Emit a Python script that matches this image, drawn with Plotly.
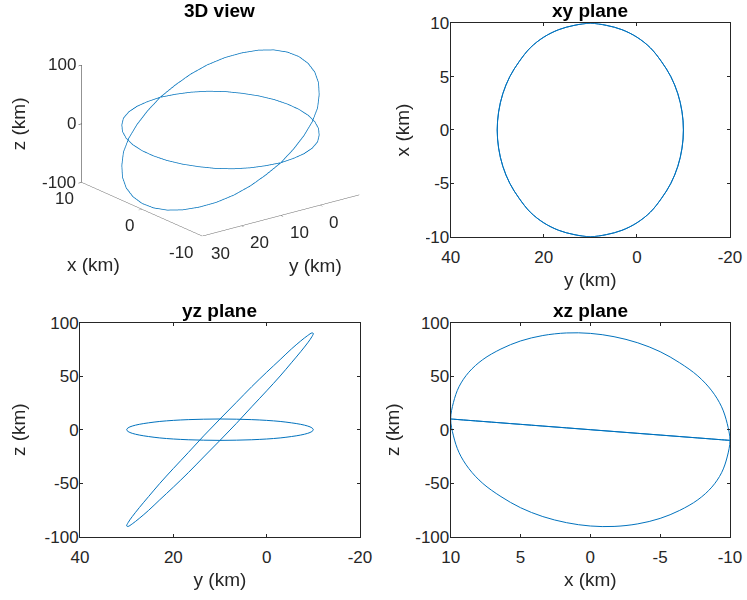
import plotly.graph_objects as go

x_km = [10.0, 9.8, 9.4, 8.7, 7.7, 6.4, 5.0, 3.4, 1.7, 0.0, -1.7, -3.4, -5.0, -6.4, -7.7, -8.7, -9.4, -9.8,
        -10.0, -9.8, -9.4, -8.7, -7.7, -6.4, -5.0, -3.4, -1.7, 0.0, 1.7, 3.4, 5.0, 6.4, 7.7, 8.7, 9.4, 9.8, 10.0]
y_km = [10.0, 13.5, 16.8, 20.0, 22.9, 25.3, 27.3, 28.8, 29.7, 30.0, 29.7, 28.8, 27.3, 25.3, 22.9, 20.0, 16.8, 13.5,
        10.0, 6.5, 3.2, 0.0, -2.9, -5.3, -7.3, -8.8, -9.7, -10.0, -9.7, -8.8, -7.3, -5.3, -2.9, 0.0, 3.2, 6.5, 10.0]
z_flat_km = [10.0, 9.8, 9.4, 8.7, 7.7, 6.4, 5.0, 3.4, 1.7, 0.0, -1.7, -3.4, -5.0, -6.4, -7.7, -8.7, -9.4, -9.8,
             -10.0, -9.8, -9.4, -8.7, -7.7, -6.4, -5.0, -3.4, -1.7, 0.0, 1.7, 3.4, 5.0, 6.4, 7.7, 8.7, 9.4, 9.8, 10.0]
z_tilt_km = [10.0, -5.8, -21.4, -36.3, -50.2, -62.5, -72.9, -81.2, -86.9, -90.0, -90.4, -88.0, -82.9, -75.4, -65.5,
             -53.7, -40.2, -25.5, -10.0, 5.8, 21.4, 36.3, 50.2, 62.5, 72.9, 81.2, 86.9, 90.0, 90.4, 88.0, 82.9, 75.4,
             65.5, 53.7, 40.2, 25.5, 10.0]

titles = ["3D view", "xy plane", "yz plane", "xz plane"]
ticks3d_x = [-10, 0, 10]
ticks3d_y = [0, 10, 20, 30]
ticks3d_z = [-100, 0, 100]
ticks_y40 = [40, 20, 0, -20]
ticks_x10 = [10, 5, 0, -5, -10]
ticks_z100 = [100, 50, 0, -50, -100]

LINE = "#0072BD"
AX = "#262626"
FONT = "Liberation Sans, Arial, Helvetica, sans-serif"
TICK_SIZE = 17
LABEL_SIZE = 19

fig = go.Figure()

# 3D view
for zz in (z_flat_km, z_tilt_km):
    fig.add_trace(go.Scatter3d(x=x_km, y=y_km, z=zz, mode="lines",
                               line=dict(color=LINE, width=1.5), scene="scene",
                               showlegend=False, hoverinfo="skip"))

# xy plane (horizontal: y, vertical: x)
for _ in range(2):
    fig.add_trace(go.Scatter(x=y_km, y=x_km, mode="lines", xaxis="x", yaxis="y",
                             line=dict(color=LINE, width=1, shape="spline"), showlegend=False, hoverinfo="skip"))
# yz plane
for zz in (z_flat_km, z_tilt_km):
    fig.add_trace(go.Scatter(x=y_km, y=zz, mode="lines", xaxis="x2", yaxis="y2",
                             line=dict(color=LINE, width=1, shape="spline"), showlegend=False, hoverinfo="skip"))
# xz plane
for zz in (z_flat_km, z_tilt_km):
    fig.add_trace(go.Scatter(x=x_km, y=zz, mode="lines", xaxis="x3", yaxis="y3",
                             line=dict(color=LINE, width=1, shape="spline"), showlegend=False, hoverinfo="skip"))


def ax2d(domain, rng, tickvals, title, anchor, standoff, lab_off):
    return dict(domain=domain, range=rng, tickvals=tickvals, ticktext=[str(v) for v in tickvals],
                anchor=anchor, automargin=False, ticklabelstandoff=lab_off,
                ticks="inside", ticklen=3, tickcolor=AX, mirror="allticks",
                showline=True, linecolor=AX, linewidth=1, showgrid=False, zeroline=False,
                tickfont=dict(family=FONT, size=TICK_SIZE, color=AX),
                title=dict(text=title, font=dict(family=FONT, size=LABEL_SIZE, color=AX), standoff=standoff))


XL = [0.6033, 0.9772]
XR_L = [0.1071, 0.4819]
YT = [0.6055, 0.9612]
YB = [0.1055, 0.4622]


def ax3d(rng, tickvals, lc):
    return dict(range=rng, tickvals=tickvals, title=dict(text=""), showticklabels=False,
                showbackground=False, showgrid=False, zeroline=False, showline=True,
                linecolor=lc, linewidth=1, ticks="inside", ticklen=4, tickcolor=lc,
                showspikes=False, autorange=False)


# 3D tick labels and axis titles as scene annotations (placed at data coordinates)
XMIN, XMAX, YMAX, YMIN, ZMIN = -10, 10, 30, -10, -100
ann3d = []
tf = dict(family=FONT, size=TICK_SIZE, color=AX)
lf = dict(family=FONT, size=LABEL_SIZE, color=AX)
for v in ticks3d_z:
    ann3d.append(dict(x=XMAX, y=YMAX, z=v, text=str(v), showarrow=False, xanchor="right", xshift=-4, font=tf))
for v in ticks3d_x:
    ann3d.append(dict(x=v, y=YMAX, z=ZMIN, text=str(v), showarrow=False, xanchor="right", xshift=-6, yshift=-16, font=tf))
for v in ticks3d_y:
    ann3d.append(dict(x=XMIN, y=v, z=ZMIN, text=str(v), showarrow=False, xanchor="left", xshift=7, yshift=-17, font=tf))
ann3d.append(dict(x=0, y=YMAX, z=ZMIN, text="x (km)", showarrow=False, xshift=-48, yshift=-55, font=lf))
ann3d.append(dict(x=XMIN, y=10, z=ZMIN, text="y (km)", showarrow=False, xshift=35, yshift=-50, font=lf))
ann3d.append(dict(x=XMAX, y=YMAX, z=0, text="z (km)", showarrow=False, textangle=-90, xshift=-63, font=lf))

r = 1.0
k = 1.8
fig.update_layout(
    width=747, height=600, margin=dict(l=0, r=0, t=0, b=0, autoexpand=False),
    paper_bgcolor="white", plot_bgcolor="white", hovermode=False,
    xaxis=ax2d(XL, [40, -20], ticks_y40, "y (km)", "y", 6, 5),
    yaxis=ax2d(YT, [-10, 10], ticks_x10, "x (km)", "x", 10, -3),
    xaxis2=ax2d(XR_L, [40, -20], ticks_y40, "y (km)", "y2", 6, 5),
    yaxis2=ax2d(YB, [-100, 100], ticks_z100, "z (km)", "x2", 13, -3),
    xaxis3=ax2d(XL, [10, -10], ticks_x10, "x (km)", "y3", 6, 5),
    yaxis3=ax2d(YB, [-100, 100], ticks_z100, "z (km)", "x3", 10, -3),
    scene=dict(
        domain=dict(x=[0.02, 0.57], y=[0.6, 0.967]),
        xaxis=ax3d([XMIN, XMAX], ticks3d_x, "#666666"),
        yaxis=ax3d([YMIN, YMAX], ticks3d_y, "#666666"),
        zaxis=ax3d([-100, 100], ticks3d_z, "#262626"),
        aspectmode="manual", aspectratio=dict(x=1 * k, y=1 * k, z=0.63 * k),
        camera=dict(eye=dict(x=-0.745 * r, y=0.572 * r, z=0.342 * r), up=dict(x=0, y=0, z=1),
                    center=dict(x=0, y=0, z=0), projection=dict(type="orthographic")),
        bgcolor="white",
        annotations=ann3d,
    ),
)

# subplot titles
title_pos = [(0.2945, 0.9612), (0.7903, 0.9612), (0.2945, 0.4622), (0.7903, 0.4622)]
for t, (xp, yp) in zip(titles, title_pos):
    fig.add_annotation(text="<b>%s</b>" % t, x=xp, y=yp, xref="paper", yref="paper",
                       xanchor="center", yanchor="bottom", yshift=0, showarrow=False,
                       font=dict(family=FONT, size=LABEL_SIZE, color="black"))

fig.write_html("out.html")
